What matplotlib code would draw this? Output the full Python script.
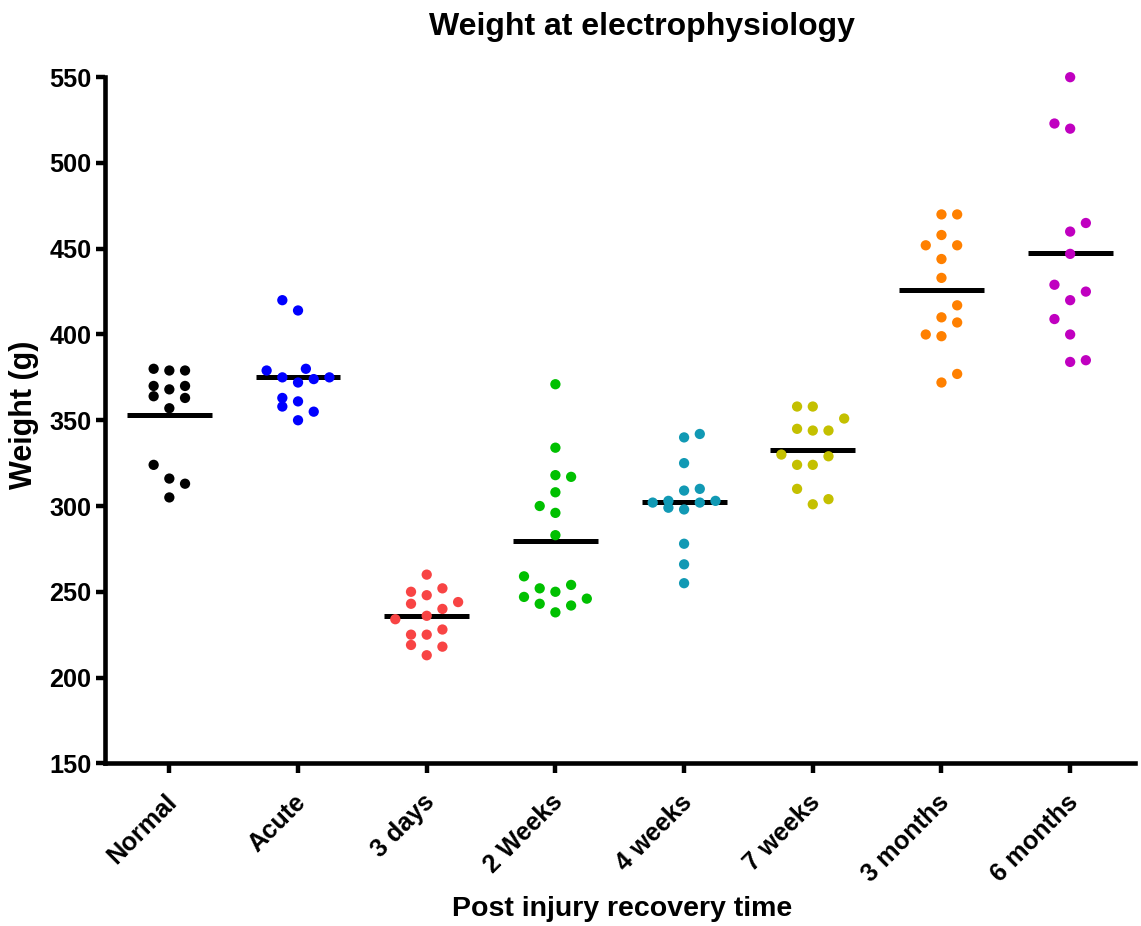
import numpy as np
import matplotlib
matplotlib.use("Agg")
import matplotlib.pyplot as plt
import matplotlib.transforms as mtransforms

plt.rcParams['font.family'] = ['Liberation Sans', 'DejaVu Sans']
plt.rcParams['font.weight'] = 'bold'

# ---- data ----
categories = ["Normal", "Acute", "3 days", "2 Weeks", "4 weeks", "7 weeks", "3 months", "6 months"]
colors = ["#000000", "#0000FF", "#F84444", "#00C000", "#1199B4", "#C4C000", "#FF8000", "#C000C0"]

normal = [380, 379, 379, 370, 368, 370, 364, 357, 363, 324, 316, 313, 305]
acute = [420, 414, 379, 380, 375, 372, 374, 375, 363, 361, 358, 355, 350]
days3 = [260, 250, 252, 248, 243, 244, 240, 234, 236, 225, 225, 228, 219, 218, 213]
weeks2 = [371, 334, 318, 317, 308, 300, 296, 283, 259, 252, 250, 254, 247, 243, 242, 246, 238]
weeks4 = [340, 342, 325, 309, 310, 302, 303, 299, 302, 303, 298, 278, 266, 255]
weeks7 = [358, 358, 351, 345, 344, 344, 330, 329, 324, 324, 310, 301, 304]
months3 = [470, 470, 458, 452, 452, 444, 433, 417, 410, 407, 400, 399, 372, 377]
months6 = [550, 523, 520, 465, 460, 447, 429, 425, 420, 409, 400, 384, 385]

yticks = [150, 200, 250, 300, 350, 400, 450, 500, 550]

# ---- layout: horizontal scatter slots of each dot (column index within group) ----
normal_slots = [-1, 0, 1, -1, 0, 1, -1, 0, 1, -1, 0, 1, 0]
acute_slots = [-1, 0, -2, 0.5, -1, 0, 1, 2, -1, 0, -1, 1, 0]
days3_slots = [0, -1, 1, 0, -1, 2, 1, -2, 0, -1, 0, 1, -1, 1, 0]
weeks2_slots = [0, 0, 0, 1, 0, -1, 0, 0, -2, -1, 0, 1, -2, -1, 1, 2, 0]
weeks4_slots = [0, 1, 0, 0, 1, -2, -1, -1, 1, 2, 0, 0, 0, 0]
weeks7_slots = [-1, 0, 2, -1, 0, 1, -2, 1, -1, 0, -1, 0, 1]
months3_slots = [0, 1, 0, -1, 1, 0, 0, 1, 0, 1, -1, 0, 0, 1]
months6_slots = [0, -1, 0, 1, 0, 0, -1, 1, 0, -1, 0, 0, 1]

groups = [normal, acute, days3, weeks2, weeks4, weeks7, months3, months6]
slots = [normal_slots, acute_slots, days3_slots, weeks2_slots, weeks4_slots,
         weeks7_slots, months3_slots, months6_slots]

W, H = 1141, 926
fig = plt.figure(figsize=(W / 100, H / 100), dpi=100)
x0, x1 = 105.0, 1134.5
ytop, ybot = 77.2, 763.3
ax = fig.add_axes([x0 / W, 1 - ybot / H, (x1 - x0) / W, (ybot - ytop) / H])

slot_w = 0.122
for i, (vals, sl, c) in enumerate(zip(groups, slots, colors)):
    v = np.array(vals, dtype=float)
    xs = i + np.array(sl, dtype=float) * slot_w
    ax.hlines(v.mean(), i - 0.33, i + 0.33, color='black', lw=3.6, zorder=2)
    ax.scatter(xs, v, s=7.4 ** 2, color=c, edgecolors='none', zorder=3, clip_on=False)

ax.set_xlim(-0.5, 7.5)
ax.set_ylim(150, 550)
ax.set_yticks(yticks)
ax.set_xticks(range(len(categories)))
ax.set_xticklabels(categories, rotation=45, rotation_mode='anchor', ha='right', va='center',
                   fontsize=18.2, fontweight='bold')
ax.set_yticklabels([str(t) for t in yticks], fontsize=18.2, fontweight='bold')

for s in ['top', 'right']:
    ax.spines[s].set_visible(False)
for s in ['left', 'bottom']:
    ax.spines[s].set_linewidth(3.3)
    ax.spines[s].set_capstyle('projecting')

ax.tick_params(axis='y', width=3.2, length=6.5, pad=3.2, direction='out')
ax.tick_params(axis='x', width=3.2, length=7.2, pad=18.0, direction='out')

offset = mtransforms.ScaledTranslation(4 / 100, 0, fig.dpi_scale_trans)
for lab in ax.get_xticklabels():
    lab.set_transform(lab.get_transform() + offset)

fig.text(641.5 / W, 1 - 35 / H, "Weight at electrophysiology", ha='center', va='baseline',
         fontsize=23, fontweight='bold')
fig.text(621.7 / W, 1 - 916 / H, "Post injury recovery time", ha='center', va='baseline',
         fontsize=20.5, fontweight='bold')
fig.text(24 / W, 1 - 415 / H, "Weight (g)", ha='center', va='center', rotation=90,
         fontsize=22, fontweight='bold')

fig.savefig("out.png", dpi=100)
